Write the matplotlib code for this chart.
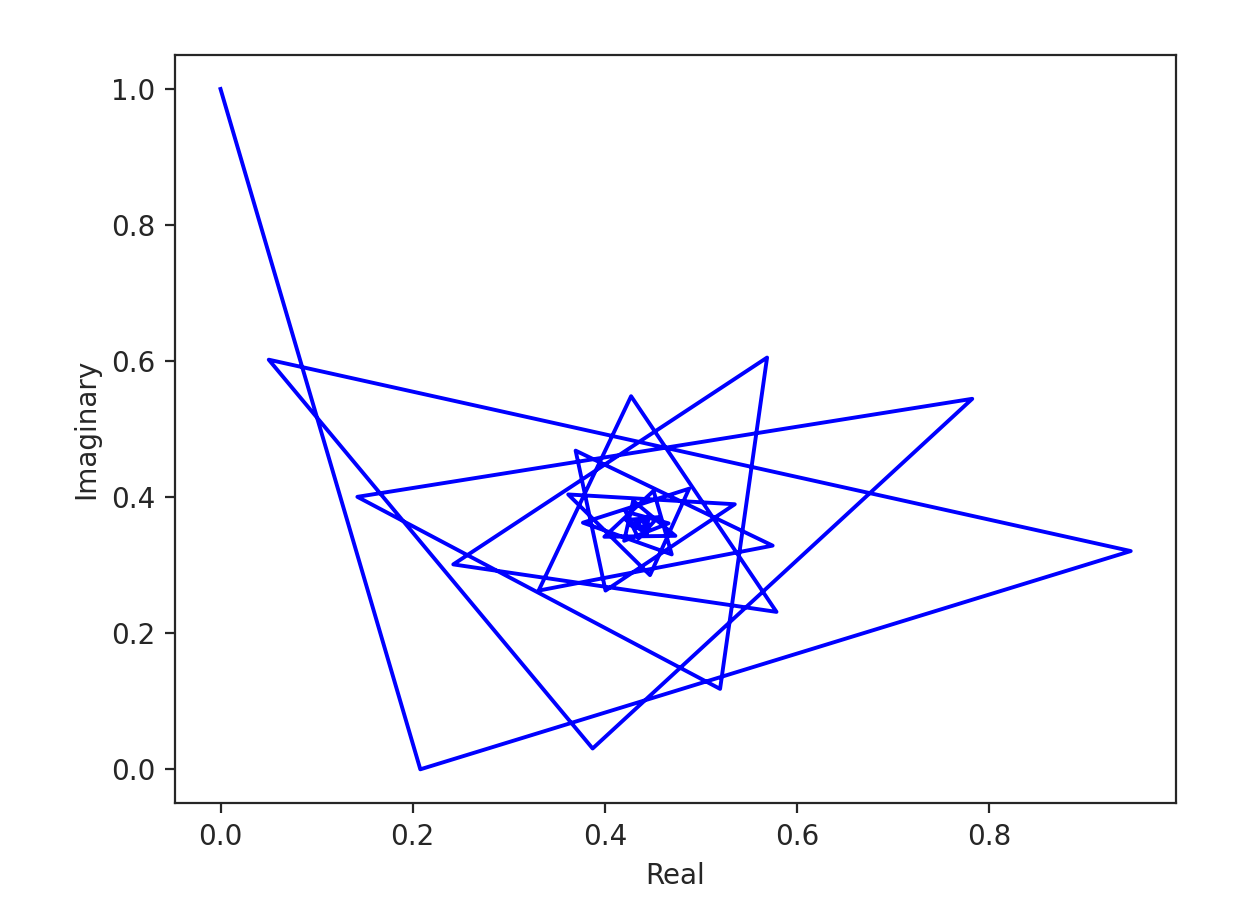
import matplotlib
matplotlib.use("Agg")
import matplotlib.pyplot as plt

# points (spiral converging near 0.438 + 0.361i)
real = [0.0, 0.2079, 0.9471, 0.0502, 0.3872, 0.7822, 0.1424, 0.5198, 0.5687,
        0.2422, 0.5785, 0.4272, 0.3310, 0.5745, 0.3695, 0.4006, 0.5351, 0.3618,
        0.4469, 0.4876, 0.3771, 0.4695, 0.4506, 0.3994, 0.4733, 0.4294, 0.4200,
        0.4662, 0.4215, 0.4350, 0.4551, 0.4219, 0.4435, 0.4453, 0.4262, 0.4464,
        0.4387, 0.4314, 0.4459, 0.4352, 0.4357]
imag = [1.0, 0.0, 0.3208, 0.6021, 0.0306, 0.5446, 0.4005, 0.1182, 0.6052,
        0.3012, 0.2314, 0.5484, 0.2627, 0.3288, 0.4684, 0.2627, 0.3896, 0.4040,
        0.2854, 0.4125, 0.3625, 0.3159, 0.4094, 0.3418, 0.3432, 0.3948, 0.3359,
        0.3616, 0.3788, 0.3392, 0.3706, 0.3663, 0.3461, 0.3725, 0.3586, 0.3532,
        0.3704, 0.3553, 0.3588, 0.3668, 0.3550]

# slightly softer greys like the reference
grey = '#262626'
plt.rcParams['text.color'] = grey
plt.rcParams['axes.labelcolor'] = grey
plt.rcParams['xtick.color'] = grey
plt.rcParams['ytick.color'] = grey
plt.rcParams['axes.edgecolor'] = grey

fig = plt.figure(figsize=(6.25, 4.58), dpi=200)
ax = fig.add_axes([0.14, 0.123, 0.801, 0.817])
ax.plot(real, imag, color='b', linewidth=1.4)
ax.set_xlabel('Real')
ax.set_ylabel('Imaginary')
fig.savefig('out.png', dpi=200)
